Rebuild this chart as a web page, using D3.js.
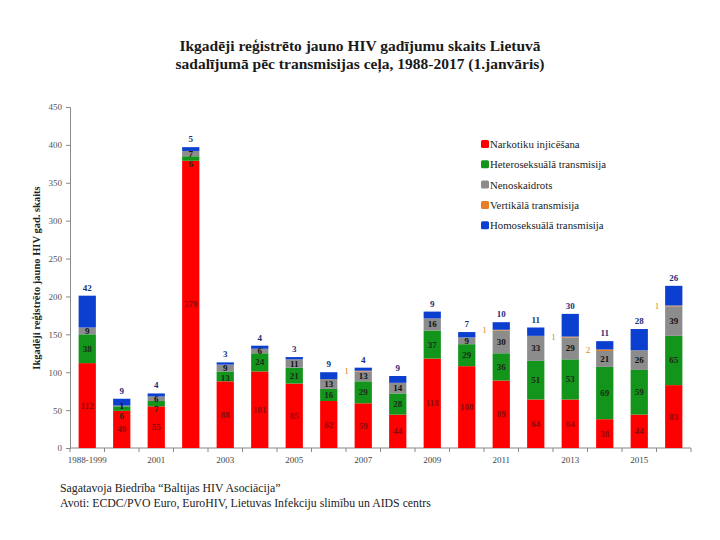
<!DOCTYPE html>
<html>
<head>
<meta charset="utf-8">
<script src="https://cdn.jsdelivr.net/npm/d3@7"></script>
<style>
  body { margin: 0; background: #fff; }
  svg { font-family: "Liberation Serif", "Times New Roman", serif; }
</style>
</head>
<body>
<svg></svg>
<script>
// Data
const years = ['1988-1999', '2000', '2001', '2002', '2003', '2004', '2005', '2006', '2007', '2008',
               '2009', '2010', '2011', '2012', '2013', '2014', '2015', '2016']
const tickYears = ['1988-1999', '2001', '2003', '2005', '2007', '2009', '2011', '2013', '2015']
const narkotiku  = [112, 49, 55, 379, 88, 101, 85, 62, 59, 44, 118, 108, 89, 64, 64, 38, 44, 83]
const hetero     = [38, 6, 7, 6, 13, 24, 21, 16, 29, 28, 37, 29, 36, 51, 53, 69, 59, 65]
const nenoskaid  = [9, 1, 6, 7, 9, 6, 11, 13, 13, 14, 16, 9, 30, 33, 29, 21, 26, 39]
const vertikala  = [0, 0, 0, 0, 0, 0, 0, 0, 1, 0, 0, 0, 1, 0, 1, 2, 0, 1]
const homo       = [42, 9, 4, 5, 3, 4, 3, 9, 4, 9, 9, 7, 10, 11, 30, 11, 28, 26]
const seriesNames = ['Narkotiku injicēšana', 'Heteroseksuālā transmisija', 'Nenoskaidrots',
                     'Vertikālā transmisija', 'Homoseksuālā transmisija']
const yTicks = [0, 50, 100, 150, 200, 250, 300, 350, 400, 450]

const colors = ['#ff0000', '#13951b', '#8c8c8c', '#e87f25', '#0b3fcf']
const labelColors = ['#8a0c0c', '#1c2a18', '#111111', '#d8892a', '#1a2f7a']

const width = 720
const height = 540
const svg = d3.select('svg').attr('width', width).attr('height', height)

const table = years.map((y, i) => ({
    year: y,
    s0: narkotiku[i], s1: hetero[i], s2: nenoskaid[i], s3: vertikala[i], s4: homo[i]
}))
const keys = ['s0', 's1', 's2', 's3', 's4']
const stacked = d3.stack().keys(keys)(table)

const plotLeft = 70, plotRight = 691, plotTop = 107, plotBottom = 448

const xScale = d3.scaleBand()
                .domain(years)
                .range([plotLeft, plotRight])
                .paddingInner(0.5)
                .paddingOuter(0.25)
const yScale = d3.scaleLinear()
                .domain([0, 450])
                .range([plotBottom, plotTop])

// title
svg.append('text')
    .attr('x', 360).attr('y', 51)
    .attr('text-anchor', 'middle')
    .style('font-size', '15.5px').style('font-weight', 'bold').attr('fill', '#1a1a1a')
    .text('Ikgadēji reģistrēto  jauno HIV  gadījumu skaits Lietuvā')
svg.append('text')
    .attr('x', 360).attr('y', 69)
    .attr('text-anchor', 'middle')
    .style('font-size', '15.5px').style('font-weight', 'bold').attr('fill', '#1a1a1a')
    .text('sadalījumā pēc transmisijas ceļa, 1988-2017 (1.janvāris)')

// y axis
const yAxis = d3.axisLeft(yScale).tickValues(yTicks).tickSize(4).tickPadding(4)
const gy = svg.append('g')
    .attr('transform', 'translate(' + plotLeft + ', 0)')
    .call(yAxis)
gy.select('.domain').attr('stroke', '#888')
gy.selectAll('.tick line').attr('stroke', '#888')
gy.selectAll('.tick text')
    .attr('fill', '#555')
    .style('font-size', '9px')
    .style('font-family', '"Liberation Serif", serif')

svg.append('text')
    .attr('transform', 'translate(40, 278) rotate(-90)')
    .attr('text-anchor', 'middle')
    .style('font-size', '10.5px').style('font-weight', 'bold').attr('fill', '#222')
    .text('Ikgadēji reģistrēto jauno HIV gad. skaits')

// x axis: boundary ticks + labels every other year
const boundary = d3.scaleLinear().domain([0, years.length]).range([plotLeft, plotRight])
svg.append('line')
    .attr('x1', plotLeft).attr('x2', plotRight)
    .attr('y1', plotBottom).attr('y2', plotBottom)
    .attr('stroke', '#888')
svg.selectAll('.xtick')
    .data(d3.range(years.length + 1))
    .enter()
    .append('line')
    .attr('class', 'xtick')
    .attr('x1', (d) => boundary(d)).attr('x2', (d) => boundary(d))
    .attr('y1', plotBottom).attr('y2', plotBottom + 4)
    .attr('stroke', '#888')
svg.selectAll('.xlabel')
    .data(tickYears)
    .enter()
    .append('text')
    .attr('class', 'xlabel')
    .attr('x', (d) => xScale(d) + xScale.bandwidth() / 2)
    .attr('y', plotBottom + 15)
    .attr('text-anchor', 'middle')
    .style('font-size', '9px').attr('fill', '#444')
    .text((d) => d)

// bars
stacked.forEach((layer, li) => {
    svg.append('g')
        .selectAll('rect')
        .data(layer)
        .enter()
        .append('rect')
        .attr('x', (d) => xScale(d.data.year))
        .attr('y', (d) => yScale(d[1]))
        .attr('width', xScale.bandwidth())
        .attr('height', (d) => yScale(d[0]) - yScale(d[1]))
        .attr('fill', colors[li])
})

// inside labels (red, green, gray) - push apart when segments are thin
const labels = []
years.forEach((year, i) => {
    const items = []
    for (let li = 0; li < 3; li++) {
        const d = stacked[li][i]
        if (d[1] - d[0] > 0) items.push({year, li, value: d[1] - d[0], y: yScale((d[0] + d[1]) / 2) + 3})
    }
    // from the top down, keep at least 10px between baselines
    for (let k = items.length - 2; k >= 0; k--) {
        if (items[k].y - items[k + 1].y < 10) items[k].y = items[k + 1].y + 10
    }
    labels.push(...items)
})
svg.append('g')
    .style('font-size', '9px')
    .style('font-weight', 'bold')
    .selectAll('text')
    .data(labels)
    .enter()
    .append('text')
    .attr('x', (d) => xScale(d.year) + xScale.bandwidth() / 2)
    .attr('y', (d) => d.y)
    .attr('text-anchor', 'middle')
    .attr('fill', (d) => labelColors[d.li])
    .text((d) => d.value)

// vertical transmission: left of the bar
svg.append('g')
    .style('font-size', '9px')
    .attr('fill', labelColors[3])
    .selectAll('text')
    .data(stacked[3].filter((d) => d[1] - d[0] > 0))
    .enter()
    .append('text')
    .attr('x', (d) => xScale(d.data.year) - 6)
    .attr('y', (d) => yScale((d[0] + d[1]) / 2) + 3)
    .attr('text-anchor', 'end')
    .text((d) => d[1] - d[0])

// homosexual: above the bar
svg.append('g')
    .style('font-size', '9px')
    .style('font-weight', 'bold')
    .attr('fill', labelColors[4])
    .selectAll('text')
    .data(stacked[4].filter((d) => d[1] - d[0] > 0))
    .enter()
    .append('text')
    .attr('x', (d) => xScale(d.data.year) + xScale.bandwidth() / 2)
    .attr('y', (d) => yScale(d[1]) - 5)
    .attr('text-anchor', 'middle')
    .text((d) => d[1] - d[0])

// legend
const legend = svg.append('g').attr('transform', 'translate(481, 140)')
seriesNames.forEach((name, i) => {
    legend.append('rect')
        .attr('x', 0).attr('y', i * 20.3)
        .attr('width', 8).attr('height', 8)
        .attr('rx', 1.5)
        .attr('fill', colors[i])
    legend.append('text')
        .attr('x', 9).attr('y', i * 20.3 + 8)
        .style('font-size', '10.8px').attr('fill', '#222')
        .text(name)
})

// footer
svg.append('text')
    .attr('x', 60).attr('y', 492)
    .style('font-size', '11.8px').attr('fill', '#222')
    .text('Sagatavoja Biedrība “Baltijas HIV Asociācija”')
svg.append('text')
    .attr('x', 60).attr('y', 507)
    .style('font-size', '11.8px').attr('fill', '#222')
    .text('Avoti: ECDC/PVO Euro, EuroHIV, Lietuvas Infekciju slimību un AIDS centrs')
</script>
</body>
</html>
